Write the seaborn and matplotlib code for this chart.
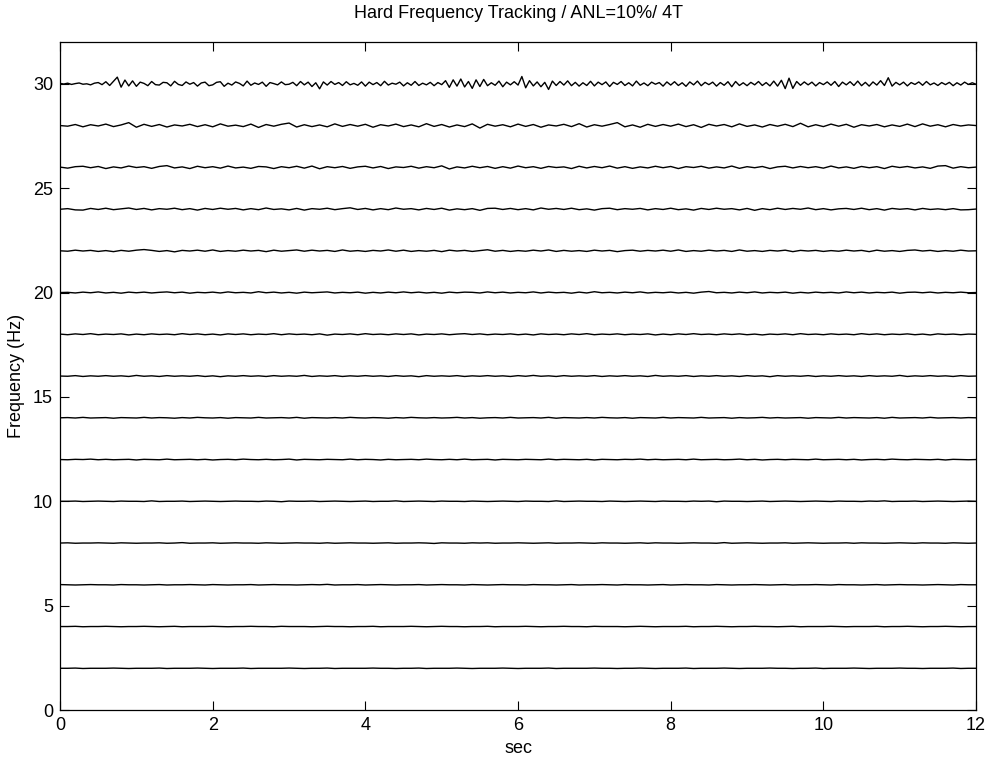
import numpy as np
import pandas as pd
import matplotlib
matplotlib.use('Agg')
import matplotlib.pyplot as plt
import seaborn as sns

# Nominal tracked frequencies (Hz) and the wiggle of each trace, read off the
# picture in hundredths of a Hz, evenly sampled over 0..12 s
freqs = [30, 28, 26, 24, 22, 20, 18, 16, 14, 12, 10, 8, 6, 4, 2]
duration = 12

dev30 = [2, -1, 3, -3, 1, 4, -2, 0, -5, 3, 6, -4, 10, -8, 12, 32, -16, 18, -10, 14,
         -12, 8, 2, -9, 11, -4, -6, 7, 5, -10, 12, -3, -8, 9, -2, 6, -11, 4, 8, -9,
         -5, 7, 10, -12, 3, -6, 9, 2, -10, 13, -7, 4, -3, 8, -12, 6, 1, -5, 9, -4,
         -2, 7, -9, 11, -5, 8, -13, 5, -24, 9, -6, 11, -3, 6, -8, 10, -5, 2, -7, 9,
         -11, 8, -4, 6, -9, 12, -6, 3, -2, 8, -10, 5, -7, 11, -8, 3, -5, 7, -9, 6,
         -4, 15, -17, 19, -11, 23, -15, 11, -22, 19, -13, 21, -9, 5, -7, 13, -14, 8, -5, 10,
         -6, 35, -19, 15, -10, 9, -14, 7, -27, 13, -8, 11, -6, 14, -9, 7, -11, 5, -8, 12,
         -10, 8, -4, 9, -13, 7, -3, 11, -8, 5, -10, 13, -7, 4, -9, 8, -2, 6, -11, 9,
         -6, 10, -8, 5, -12, 9, -5, 13, -9, 7, -4, 8, -11, 6, -7, 10, -14, 11, -8, 5,
         -9, 7, -5, 11, -8, 6, -10, 13, -11, 17, -23, 27, -22, 11, -7, 9, -5, 8, -10, 6,
         -4, 9, -7, 11, -13, 8, -5, 10, -8, 13, -9, 7, -11, 9, -6, 15, -8, 29, -11, 7,
         -5, 8, -10, 6, -3, 9, -7, 11, -5, 4, -8, 6, -4, 7, -9, 5, -6, 8, -3, 5,
         -2]
dev28 = [0, -3, 5, -6, 4, -2, 7, -5, 3, 14, -8, 6, -4, 5, -7, 3, -2, 6, -5, 4,
         -6, 8, -3, 2, -5, 7, -9, 5, -3, 6, 12, -7, 4, -5, 3, -6, 8, -4, 5, -3,
         6, -8, 4, -2, 7, -5, 3, -6, 9, -4, 5, -7, 3, -5, 8, -12, 6, -3, 4, -6,
         7, -4, 5, -8, 3, -2, 6, -5, 9, -7, 4, -3, 5, 14, -6, 3, -8, 6, -4, 5,
         -3, 7, -5, 4, -9, 6, -2, 5, -6, 8, -4, 3, -7, 5, -3, 6, -5, 11, -6, 4,
         -5, 7, -3, 6, -8, 4, -2, 5, -6, 3, -4, 7, -5, 8, -3, 4, -6, 5, -2, 3, 0]
dev26 = [1, -4, 3, 5, -2, 4, -6, 2, -3, 6, -1, 3, -5, 4, 8, -3, 2, -6, 5, -2,
         3, -4, 6, -3, 1, -5, 4, 2, -6, 3, -2, 5, -4, 6, -7, 3, -2, 4, -5, 2,
         5, -3, 4, -6, 2, -1, 5, -4, 3, -2, 7, -8, 2, -3, 5, -2, 4, -5, 3, -4,
         6, -2, 3, -5, 4, -1, 2, -6, 5, -3, 4, -2, 6, -4, 3, -5, 2, -3, 5, -2,
         4, -6, 3, -1, 5, -4, 2, -3, 6, -5, 3, -2, 4, -6, 2, 5, -3, 4, -2, 3,
         -4, 6, -3, 2, -5, 4, -2, 3, -6, 5, -1, 4, -3, 2, -5, 6, 8, -4, 3, -2, 1]
dev24 = [-1, 2, -4, -5, 3, -2, 4, -3, 1, 5, -2, 3, -4, 2, -1, 4, -3, 2, -5, 3,
         -2, 4, -1, 3, -4, 2, -3, 5, -2, 1, -4, 3, -5, 2, -1, 4, -3, 2, 6, -2,
         3, -4, 2, -3, 5, -1, 2, -4, 3, -2, 4, -5, 1, -3, 2, -6, 3, 4, -2, 3,
         -3, 2, -4, 5, -1, 3, -2, 4, -3, 1, -5, 2, 4, -3, 2, -1, 3, -4, 2, -2,
         4, -3, 1, -5, 3, -2, 4, -1, 2, -4, 3, -6, 2, -3, 4, -2, 3, -1, 5, -3,
         2, -4, 1, 3, -2, 4, -3, 2, -5, 3, -1, 2, -4, 3, -2, 1, -3, 2, -4, -3, 0]
dev22 = [0, -2, 3, -1, 2, -3, 1, -4, 2, -2, 3, 6, 2, -3, 1, -5, 2, -1, 3, -2,
         4, -3, 1, -2, 3, -1, 2, -4, 3, -2, 1, 4, -2, 3, -1, 2, -3, 4, -2, 1,
         -3, 2, -1, 4, -2, 3, -3, 1, -2, 2, -4, 3, -1, 2, -3, 1, 5, -2, 2, -3,
         1, -2, 3, -1, 4, -3, 2, -2, 1, -3, 3, -1, 2, -4, 1, 3, -2, 2, -1, 3,
         -2, 4, -3, 1, -2, 3, -1, 2, -3, 4, -2, 1, -3, 2, -1, 3, -4, 2, -1, 2,
         -3, 1, -2, 3, -1, 2, -4, 3, -2, 1, -3, 2, 4, -1, 2, -3, 1, -2, 3, -1, 0]
dev20 = [0, 1, -2, 2, -1, 3, -2, 1, -3, 2, -1, 2, -2, 1, 3, -1, 2, -3, 1, -1,
         2, -2, 3, -1, 1, -2, 4, -1, 2, -2, 1, -3, 2, -1, 1, 3, -2, 1, -1, 2,
         -3, 1, -2, 2, -1, 3, -1, 2, -2, 1, -3, 2, -1, 2, 1, -2, 3, -1, 2, -2,
         1, -1, 3, -2, 2, -1, 1, -3, 2, -2, 4, -1, 1, -2, 2, -1, 3, -2, 1, -1,
         2, -2, 1, -3, 2, 5, -1, 1, -2, 2, -1, 3, -2, 1, -1, 2, -3, 1, -2, 2,
         -1, 1, -2, 3, -1, 2, -2, 1, -1, 2, -3, 1, 2, -1, 2, -2, 1, -1, 2, -1, 0]
dev18 = [1, -2, 2, -1, 3, -2, 1, -1, 2, -3, 1, -2, 2, -1, 1, -2, 3, -1, 2, -2,
         1, -3, 2, -1, 2, -2, 1, -1, 3, -2, 2, -1, 1, -2, 2, -4, 1, -1, 2, -2,
         3, -1, 1, -2, 2, -1, 2, -3, 1, -1, 2, -2, 1, 3, -1, 2, -2, 1, -1, 2,
         -2, 1, -3, 2, -1, 1, -2, 2, -1, 3, -2, 1, -1, 2, -2, 1, -1, 2, -3, 1,
         -2, 2, -1, 3, -1, 1, -2, 2, -1, 2, -2, 1, -3, 1, -1, 2, -2, 3, -1, 1,
         -2, 2, -1, 1, -2, 3, -1, 2, -2, 1, -1, 2, -2, 1, -3, 2, -1, 1, -2, 1, 0]
dev16 = [0, -1, 2, -2, 1, -1, 2, -1, 1, -2, 3, -1, 1, -2, 2, -1, 1, -1, 2, -2,
         1, -3, 1, -1, 2, -1, 1, -2, 2, -1, 1, -1, 3, -2, 1, -1, 2, -2, 1, -1,
         2, -1, 1, -2, 2, -1, 1, -3, 2, -1, 1, -1, 2, -2, 1, -1, 2, -1, 1, -2,
         2, -1, 3, -1, 1, -2, 2, -1, 1, -1, 2, -2, 1, -1, 2, -1, 1, -2, 3, -1,
         1, -1, 2, -2, 1, -1, 2, -1, 1, -2, 2, -1, 1, -3, 2, -1, 1, -1, 2, -2,
         1, -1, 2, -1, 1, -2, 2, -1, 1, -1, 3, -2, 1, -1, 2, -1, 1, -2, 2, -1, 0]
dev14 = [0, 1, -1, 2, -1, 0, 1, -2, 1, 0, -1, 2, -1, 1, 0, -2, 1, -1, 2, 0,
         -1, 1, -2, 1, 0, -1, 2, -1, 0, 1, -1, 2, -2, 1, 0, -1, 1, -1, 2, 0,
         -1, 1, 0, -2, 1, -1, 2, 0, -1, 1, -1, 0, 2, -1, 1, -2, 0, 1, -1, 2,
         -1, 0, 1, -1, 2, -2, 1, 0, -1, 1, -1, 2, 0, -1, 1, -2, 1, 0, -1, 2,
         -1, 1, 0, -1, 2, -1, 0, 1, -2, 1, -1, 0, 2, -1, 1, -1, 0, 1, -2, 1,
         0, -1, 2, -1, 1, 0, -1, 1, -2, 2, -1, 0, 1, -1, 2, -1, 0, 1, -1, 1, 0]
dev12 = [0, -1, 1, 0, 2, -1, 1, -1, 0, 1, -2, 1, 0, -1, 2, -1, 0, 1, -1, 1,
         -2, 0, 1, -1, 2, 0, -1, 1, -1, 0, 2, -2, 1, 0, -1, 1, 0, -1, 2, -1,
         1, 0, -2, 1, -1, 0, 1, -1, 2, 0, -1, 1, -1, 2, -1, 0, 1, -2, 1, 0,
         -1, 1, 0, -1, 2, -1, 1, 0, -1, 1, -2, 1, 0, -1, 1, 0, 2, -1, 1, -1,
         0, 1, -1, 2, -1, 0, 1, -1, 0, 2, -1, 1, -2, 0, 1, -1, 1, 0, -1, 2,
         -1, 0, 1, -1, 1, -2, 0, 1, -1, 2, 0, -1, 1, 0, -1, 1, -2, 1, 0, -1, 0]
dev10 = [0, 0, 1, -1, 0, 1, 0, -1, 1, 0, 0, -1, 2, -1, 0, 0, 1, -1, 0, 1,
         0, -1, 0, 1, 0, 0, -1, 1, 0, -2, 1, 0, 0, 1, -1, 0, 1, 0, -1, 0,
         1, -1, 0, 0, 2, -1, 0, 1, 0, -1, 1, 0, 0, -1, 1, 0, -1, 0, 1, 0,
         -1, 1, 0, 0, -1, 2, -1, 0, 1, 0, 0, -1, 1, 0, -1, 0, 1, 0, -1, 1,
         0, 0, -1, 1, 0, 1, -2, 1, 0, 0, -1, 0, 1, -1, 0, 1, 0, -1, 0, 1,
         0, -1, 1, 0, 0, -1, 1, 0, 2, -1, 0, 0, 1, -1, 0, 1, 0, -1, 0, 1, 0]
dev8 = [0, 1, -1, 0, 0, 1, 0, -1, 1, 0, -1, 0, 0, 1, -1, 0, 2, -1, 0, 0,
        1, -1, 0, 1, 0, 0, -1, 1, 0, -1, 0, 1, 0, 0, -1, 1, -1, 0, 1, 0,
        0, -1, 0, 1, -1, 0, 0, 1, 0, -2, 1, 0, 0, -1, 1, 0, 1, -1, 0, 0,
        1, 0, -1, 0, 1, -1, 0, 0, 1, 0, -1, 1, 0, 0, -1, 0, 1, -1, 1, 0,
        0, -1, 0, 1, 0, 0, -1, 2, -1, 0, 1, 0, -1, 0, 0, 1, -1, 0, 1, 0,
        -1, 0, 0, 1, -1, 1, 0, 0, -1, 0, 1, 0, -1, 1, 0, 0, -1, 1, 0, -1, 0]
dev6 = [1, 0, -1, 0, 1, 0, 0, -1, 1, 0, 0, -1, 0, 1, -1, 0, 0, 1, 0, -1,
        1, 0, -1, 0, 0, 1, -1, 0, 1, 0, 0, -1, 0, 1, 0, 2, -1, 0, 0, 1,
        -1, 0, 1, 0, -1, 0, 0, 1, -1, 0, 1, 0, 0, -1, 1, 0, -1, 0, 1, 0,
        0, -1, 1, 0, 0, -1, 0, 1, -1, 0, 0, 1, 0, -1, 1, 0, 0, -1, 0, 1,
        -1, 0, 1, 0, 0, -1, 1, 0, -1, 0, 0, 1, 0, -1, 0, 1, -1, 0, 0, 1,
        0, -1, 1, 0, 0, -1, 0, 1, -1, 0, 1, 0, 0, -1, 0, 1, 0, -1, 1, 0, 0]
dev4 = [0, 0, 1, -1, 0, 0, 1, 0, -1, 0, 0, 1, 0, -1, 0, 1, -1, 0, 0, 0,
        1, 0, -1, 0, 0, 1, 0, 0, -1, 1, 0, 0, 0, -1, 0, 1, 0, 0, -1, 0,
        0, 1, -1, 0, 0, 0, 1, 0, -1, 0, 1, 0, 0, -1, 0, 0, 1, -1, 0, 0,
        0, 1, 0, -1, 0, 0, 1, 0, 0, -1, 1, 0, 0, 0, -1, 0, 1, 0, -1, 0,
        0, 0, 1, -1, 0, 0, 1, 0, -1, 0, 0, 1, 0, 0, -1, 0, 1, -1, 0, 0,
        0, 1, 0, -1, 0, 0, 0, 1, -1, 0, 0, 1, 0, -1, 0, 0, 1, 0, -1, 0, 0]
dev2 = [0, 0, 1, -1, 0, 0, 0, 1, 0, -1, 0, 0, 0, 1, -1, 0, 0, 0, 1, 0,
        -1, 0, 0, 0, 1, -1, 0, 0, 0, 0, 1, 0, -1, 0, 0, 1, -1, 0, 0, 0,
        0, 1, 0, 0, -1, 0, 0, 1, -1, 0, 0, 0, 1, 0, -1, 0, 0, 0, 1, 0,
        -1, 0, 0, 0, 1, -1, 0, 0, 0, 0, 1, 0, 0, -1, 0, 0, 1, 0, -1, 0,
        0, 0, 1, -1, 0, 0, 0, 1, 0, -1, 0, 0, 0, 1, 0, 0, -1, 0, 0, 1,
        -1, 0, 0, 0, 1, 0, -1, 0, 0, 0, 1, 0, 0, -1, 0, 0, 0, 1, -1, 0, 0]

deviations = [dev30, dev28, dev26, dev24, dev22, dev20, dev18, dev16,
              dev14, dev12, dev10, dev8, dev6, dev4, dev2]

# Long table: one trace per nominal frequency
frames = []
for f, dev in zip(freqs, deviations):
    dev = np.array(dev) / 100.0
    t = np.linspace(0, duration, len(dev))
    frames.append(pd.DataFrame({'sec': t, 'Frequency (Hz)': f + dev, 'trace': f}))
df = pd.concat(frames, ignore_index=True)

sns.set_style('ticks')
plt.rcParams['font.family'] = ['Liberation Sans', 'DejaVu Sans']
plt.rcParams['text.color'] = 'black'
plt.rcParams['axes.labelcolor'] = 'black'

fig = plt.figure(figsize=(9.86, 7.62), dpi=100)
ax = fig.add_axes([0.0609, 0.0682, 0.929, 0.8766])

sns.lineplot(data=df, x='sec', y='Frequency (Hz)', units='trace', estimator=None,
             sort=False, color='black', linewidth=1.0, legend=False, ax=ax)

ax.set_xlim(0, 12)
ax.set_ylim(0, 32)
ax.set_xticks(range(0, 13, 2))
ax.set_yticks(range(0, 31, 5))
ax.tick_params(direction='in', top=True, right=True, length=6.5, width=0.8,
               labelsize=13, pad=5, colors='black')
for side in ax.spines.values():
    side.set_visible(True)
    side.set_linewidth(0.9)
    side.set_color('black')

ax.set_title('Hard Frequency Tracking / ANL=10%/ 4T', fontsize=13, pad=17, color='black')
ax.set_xlabel('sec', fontsize=13, labelpad=4)
ax.set_ylabel('Frequency (Hz)', fontsize=13, labelpad=6)

fig.savefig('out.png', dpi=100)
plt.close(fig)
